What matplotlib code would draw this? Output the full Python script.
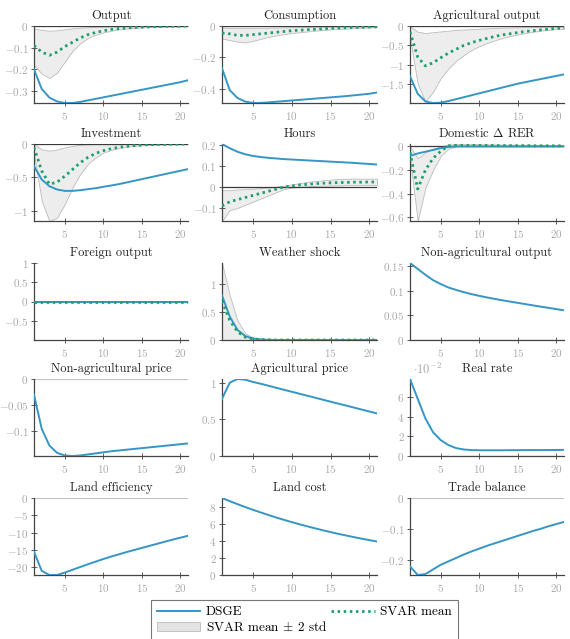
import numpy as np
import matplotlib
matplotlib.use("Agg")
import matplotlib.pyplot as plt
from matplotlib.ticker import FuncFormatter, FixedLocator
from matplotlib.lines import Line2D
from matplotlib.patches import Patch

plt.rcParams["font.family"] = "serif"
plt.rcParams["font.serif"] = ["cmr10", "DejaVu Serif"]
plt.rcParams["mathtext.fontset"] = "cm"
plt.rcParams["axes.unicode_minus"] = False

BLUE = "#3596c6"
GREEN = "#1f9e6c"
TICK_GRAY = "#a8a8a8"

periods = np.arange(1, 22)

# ----------------------------------------------------------------------
# DSGE impulse responses
# ----------------------------------------------------------------------
dsge_output = [-0.20, -0.29, -0.33, -0.348, -0.355, -0.355, -0.350, -0.343, -0.336, -0.329,
               -0.322, -0.315, -0.308, -0.301, -0.294, -0.287, -0.280, -0.273, -0.266, -0.259, -0.250]
dsge_consumption = [-0.27, -0.41, -0.46, -0.483, -0.492, -0.491, -0.488, -0.484, -0.480, -0.476,
                    -0.472, -0.468, -0.464, -0.460, -0.456, -0.452, -0.448, -0.443, -0.438, -0.433, -0.425]
dsge_agri_output = [-1.30, -1.75, -1.95, -1.99, -1.98, -1.94, -1.89, -1.84, -1.79, -1.74,
                    -1.69, -1.64, -1.59, -1.54, -1.49, -1.45, -1.41, -1.37, -1.33, -1.29, -1.25]
dsge_investment = [-0.33, -0.53, -0.63, -0.68, -0.70, -0.70, -0.69, -0.675, -0.66, -0.64,
                   -0.62, -0.60, -0.575, -0.55, -0.525, -0.50, -0.475, -0.45, -0.425, -0.40, -0.375]
dsge_hours = [0.205, 0.185, 0.168, 0.156, 0.148, 0.143, 0.139, 0.136, 0.133, 0.131,
              0.129, 0.127, 0.125, 0.123, 0.121, 0.119, 0.117, 0.115, 0.112, 0.110, 0.107]
dsge_rer = [-0.08, -0.06, -0.045, -0.03, -0.015, -0.005, 0.0, 0.0, 0.0, 0.0,
            0.0, 0.0, 0.0, 0.0, 0.0, 0.0, 0.0, 0.0, 0.0, 0.0, 0.0]
dsge_foreign = [0.0] * 21
dsge_weather = [0.80, 0.42, 0.18, 0.07, 0.025, 0.01, 0.004, 0.0, 0.0, 0.0,
                0.0, 0.0, 0.0, 0.0, 0.0, 0.0, 0.0, 0.0, 0.0, 0.0, 0.0]
dsge_nonagri_output = [0.157, 0.145, 0.133, 0.122, 0.114, 0.107, 0.102, 0.0975, 0.0935, 0.090,
                       0.0868, 0.0838, 0.081, 0.0783, 0.0757, 0.0731, 0.0705, 0.068, 0.0655, 0.063, 0.0605]
dsge_nonagri_price = [-0.030, -0.095, -0.127, -0.141, -0.146, -0.147, -0.146, -0.144, -0.142, -0.140,
                      -0.138, -0.1365, -0.135, -0.1335, -0.132, -0.1305, -0.129, -0.1275, -0.126, -0.1245, -0.123]
dsge_agri_price = [0.78, 1.00, 1.05, 1.04, 1.01, 0.985, 0.958, 0.93, 0.903, 0.876,
                   0.849, 0.822, 0.795, 0.768, 0.741, 0.714, 0.688, 0.661, 0.634, 0.607, 0.58]
dsge_real_rate = [0.078, 0.058, 0.038, 0.024, 0.016, 0.011, 0.008, 0.0066, 0.006, 0.0058,
                  0.0058, 0.0058, 0.0058, 0.0059, 0.0059, 0.006, 0.006, 0.006, 0.0061, 0.0061, 0.0062]
dsge_land_eff = [-15.5, -21.0, -22.2, -22.2, -21.5, -20.7, -19.9, -19.1, -18.35, -17.6,
                 -16.9, -16.25, -15.6, -15.0, -14.4, -13.8, -13.2, -12.6, -12.0, -11.45, -10.9]
dsge_land_cost = [9.0, 8.63, 8.28, 7.94, 7.62, 7.31, 7.01, 6.72, 6.45, 6.18,
                  5.93, 5.69, 5.46, 5.23, 5.02, 4.81, 4.62, 4.43, 4.25, 4.08, 3.91]
dsge_trade = [-0.220, -0.248, -0.245, -0.230, -0.215, -0.204, -0.193, -0.182, -0.172, -0.163,
              -0.154, -0.146, -0.138, -0.130, -0.122, -0.114, -0.106, -0.099, -0.091, -0.084, -0.077]

# ----------------------------------------------------------------------
# SVAR mean and +/- 2 std band
# ----------------------------------------------------------------------
svar_output = [-0.09, -0.12, -0.135, -0.12, -0.095, -0.075, -0.055, -0.04, -0.03, -0.022,
               -0.016, -0.012, -0.009, -0.007, -0.005, -0.004, -0.003, -0.002, -0.001, -0.001, 0.0]
svar_output_lo = [-0.18, -0.22, -0.24, -0.215, -0.165, -0.115, -0.08, -0.055, -0.04, -0.03,
                  -0.022, -0.016, -0.012, -0.009, -0.007, -0.005, -0.004, -0.003, -0.002, -0.002, -0.001]
svar_output_hi = [-0.012, -0.018, -0.022, -0.02, -0.015, -0.011, -0.008, -0.006, -0.004, -0.003,
                  -0.002, -0.002, -0.001, -0.001, 0.0, 0.0, 0.0, 0.0, 0.0, 0.0, 0.0]

svar_consumption = [-0.045, -0.05, -0.06, -0.06, -0.055, -0.05, -0.045, -0.04, -0.035, -0.03,
                    -0.027, -0.024, -0.021, -0.018, -0.015, -0.013, -0.011, -0.009, -0.008, -0.006, -0.005]
svar_consumption_lo = [-0.08, -0.09, -0.10, -0.105, -0.095, -0.082, -0.07, -0.06, -0.052, -0.045,
                       -0.04, -0.035, -0.03, -0.026, -0.022, -0.019, -0.016, -0.014, -0.012, -0.01, -0.008]
svar_consumption_hi = [-0.01, -0.012, -0.012, -0.012, -0.012, -0.012, -0.011, -0.01, -0.009, -0.008,
                       -0.007, -0.006, -0.005, -0.005, -0.004, -0.004, -0.003, -0.003, -0.002, -0.002, -0.002]

svar_agri_output = [-0.15, -0.80, -1.03, -0.95, -0.82, -0.70, -0.60, -0.50, -0.43, -0.37,
                    -0.32, -0.27, -0.23, -0.20, -0.17, -0.14, -0.12, -0.10, -0.08, -0.06, -0.05]
svar_agri_output_lo = [-0.30, -1.50, -1.95, -1.70, -1.35, -1.10, -0.90, -0.75, -0.62, -0.52,
                       -0.44, -0.37, -0.31, -0.26, -0.22, -0.18, -0.15, -0.12, -0.10, -0.08, -0.07]
svar_agri_output_hi = [0.0, -0.15, -0.18, -0.16, -0.14, -0.12, -0.10, -0.09, -0.08, -0.07,
                       -0.06, -0.05, -0.045, -0.04, -0.035, -0.03, -0.027, -0.024, -0.021, -0.018, -0.015]

svar_investment = [-0.05, -0.40, -0.60, -0.57, -0.48, -0.38, -0.28, -0.20, -0.14, -0.10,
                   -0.07, -0.05, -0.035, -0.025, -0.015, -0.01, -0.007, -0.005, -0.003, -0.002, -0.001]
svar_investment_lo = [-0.15, -0.85, -1.15, -1.10, -0.90, -0.65, -0.45, -0.30, -0.20, -0.13,
                      -0.09, -0.06, -0.04, -0.03, -0.02, -0.013, -0.009, -0.006, -0.004, -0.003, -0.002]
svar_investment_hi = [0.0, -0.08, -0.10, -0.08, -0.05, -0.03, -0.012, -0.005, 0.0, 0.0,
                      0.0, 0.0, 0.0, 0.0, 0.0, 0.0, 0.0, 0.0, 0.0, 0.0, 0.0]

svar_hours = [-0.09, -0.07, -0.06, -0.05, -0.04, -0.03, -0.02, -0.01, 0.0, 0.005,
              0.01, 0.013, 0.016, 0.018, 0.02, 0.021, 0.022, 0.023, 0.023, 0.024, 0.024]
svar_hours_lo = [-0.162, -0.11, -0.10, -0.085, -0.07, -0.055, -0.04, -0.025, -0.01, -0.003,
                 0.0, 0.003, 0.005, 0.006, 0.007, 0.008, 0.009, 0.009, 0.01, 0.01, 0.01]
svar_hours_hi = [-0.015, -0.015, -0.012, -0.01, -0.008, -0.005, -0.002, 0.002, 0.006, 0.012,
                 0.018, 0.024, 0.028, 0.032, 0.035, 0.038, 0.039, 0.04, 0.04, 0.04, 0.04]

svar_rer = [-0.05, -0.36, -0.20, -0.10, -0.04, 0.005, 0.01, 0.01, 0.01, 0.008,
            0.008, 0.007, 0.007, 0.006, 0.006, 0.006, 0.005, 0.005, 0.005, 0.005, 0.005]
svar_rer_lo = [-0.10, -0.63, -0.35, -0.20, -0.08, -0.02, 0.0, 0.0, 0.0, 0.0,
               0.0, 0.0, 0.0, 0.0, 0.0, 0.0, 0.0, 0.0, 0.0, 0.0, 0.0]
svar_rer_hi = [0.0, -0.10, -0.05, -0.02, 0.0, 0.015, 0.02, 0.02, 0.02, 0.018,
               0.017, 0.016, 0.015, 0.015, 0.014, 0.014, 0.013, 0.013, 0.012, 0.012, 0.012]

svar_foreign = [0.0] * 21
svar_foreign_lo = [0.0] * 21
svar_foreign_hi = [0.0] * 21

svar_weather = [0.70, 0.35, 0.15, 0.05, 0.02, 0.008, 0.003, 0.0, 0.0, 0.0,
                0.0, 0.0, 0.0, 0.0, 0.0, 0.0, 0.0, 0.0, 0.0, 0.0, 0.0]
svar_weather_lo = [0.0] * 21
svar_weather_hi = [1.38, 0.80, 0.35, 0.12, 0.04, 0.012, 0.004, 0.0, 0.0, 0.0,
                   0.0, 0.0, 0.0, 0.0, 0.0, 0.0, 0.0, 0.0, 0.0, 0.0, 0.0]

# title, dsge, svar (mean, lo, hi) or None, y ticks, dark zero line?
panels = [
    ("Output", dsge_output, (svar_output, svar_output_lo, svar_output_hi), [-0.3, -0.2, -0.1, 0], True),
    ("Consumption", dsge_consumption, (svar_consumption, svar_consumption_lo, svar_consumption_hi), [-0.4, -0.2, 0], True),
    ("Agricultural output", dsge_agri_output, (svar_agri_output, svar_agri_output_lo, svar_agri_output_hi), [-1.5, -1, -0.5, 0], True),
    ("Investment", dsge_investment, (svar_investment, svar_investment_lo, svar_investment_hi), [-1, -0.5, 0], True),
    ("Hours", dsge_hours, (svar_hours, svar_hours_lo, svar_hours_hi), [-0.1, 0, 0.1, 0.2], True),
    (r"Domestic $\Delta$ RER", dsge_rer, (svar_rer, svar_rer_lo, svar_rer_hi), [-0.6, -0.4, -0.2, 0], True),
    ("Foreign output", dsge_foreign, (svar_foreign, svar_foreign_lo, svar_foreign_hi), [-0.5, 0, 0.5, 1], False),
    ("Weather shock", dsge_weather, (svar_weather, svar_weather_lo, svar_weather_hi), [0, 0.5, 1], False),
    ("Non-agricultural output", dsge_nonagri_output, None, [0, 0.05, 0.1, 0.15], False),
    ("Non-agricultural price", dsge_nonagri_price, None, [-0.1, -0.05, 0], False),
    ("Agricultural price", dsge_agri_price, None, [0, 0.5, 1], False),
    ("Real rate", dsge_real_rate, None, [0, 0.02, 0.04, 0.06], False),
    ("Land efficiency", dsge_land_eff, None, [-20, -15, -10, -5, 0], False),
    ("Land cost", dsge_land_cost, None, [0, 2, 4, 6, 8], False),
    ("Trade balance", dsge_trade, None, [-0.2, -0.1, 0], False),
]

W, H = 570, 639
fig = plt.figure(figsize=(W / 100, H / 100), dpi=100)

col_left = [34, 222, 410]
col_width = [154, 155, 154]
row_top = [26, 144, 263, 379, 498]
ax_h = 77

for i, (title, dsge, svar, yticks, dark_zero) in enumerate(panels):
    r, c = divmod(i, 3)
    ax = fig.add_axes([col_left[c] / W, 1 - (row_top[r] + ax_h) / H,
                       col_width[c] / W, ax_h / H])

    allvals = list(dsge) + [0.0]
    if svar is not None:
        mean, lo, hi = svar
        allvals += list(mean) + list(lo) + list(hi)
        ax.fill_between(periods, lo, hi, facecolor="#ededed", edgecolor="#bcbcbc",
                        linewidth=0.6, zorder=1)
    if dark_zero:
        ax.axhline(0, color="#3a3a3a", linewidth=0.9, zorder=2)
    elif svar is None:
        ax.axhline(0, color="#c4c4c4", linewidth=0.9, zorder=2)
    ax.plot(periods, dsge, color=BLUE, linewidth=1.4, zorder=3)
    if svar is not None:
        ax.plot(periods, svar[0], color=GREEN, linewidth=2.0,
                linestyle=(0, (0.9, 1.3)), zorder=4)

    lo_v, hi_v = min(allvals), max(allvals)
    if hi_v - lo_v < 1e-12:
        lo_v, hi_v = -1, 1
    ax.set_ylim(lo_v, hi_v)
    ax.set_xlim(1, 21)
    ax.xaxis.set_major_locator(FixedLocator([5, 10, 15, 20]))
    ax.yaxis.set_major_locator(FixedLocator(yticks))
    if title == "Real rate":
        ax.yaxis.set_major_formatter(FuncFormatter(lambda v, p: f"${v * 100:g}$"))
        ax.text(0.02, 1.02, r"$\cdot 10^{-2}$", transform=ax.transAxes, fontsize=9,
                color=TICK_GRAY, ha="left", va="bottom")
    else:
        ax.yaxis.set_major_formatter(FuncFormatter(lambda v, p: f"${v:g}$"))
    ax.xaxis.set_major_formatter(FuncFormatter(lambda v, p: f"${v:g}$"))

    for s in ("top", "right"):
        ax.spines[s].set_visible(False)
    for s in ("left", "bottom"):
        ax.spines[s].set_color("#444444")
        ax.spines[s].set_linewidth(0.9)
    ax.tick_params(direction="inout", length=4, width=0.6, color="#444444",
                   labelcolor=TICK_GRAY, labelsize=8, pad=2)
    ax.tick_params(axis="x", pad=3)
    ax.set_title(title, fontsize=9, color="#222222", pad=5)

handles = [
    Line2D([], [], color=BLUE, linewidth=1.4),
    Patch(facecolor="#e3e3e3", edgecolor="#bcbcbc", linewidth=0.6),
    Line2D([], [], color=GREEN, linewidth=2.0, linestyle=(0, (0.9, 1.3))),
]
labels = ["DSGE", r"SVAR mean $\pm$ 2 std", "SVAR mean"]
leg = fig.legend(handles, labels, ncol=2, loc="upper left", mode="expand",
                 bbox_to_anchor=(151 / W, -0.02, 307 / W, 1 - 600 / H + 0.02),
                 fontsize=9.5, frameon=True, fancybox=False, handlelength=3.3,
                 handletextpad=0.4, borderpad=0.45, labelspacing=0.15,
                 borderaxespad=0.0)
leg.get_frame().set_edgecolor("#555555")
leg.get_frame().set_linewidth(0.8)

fig.savefig("out.png", dpi=100)
